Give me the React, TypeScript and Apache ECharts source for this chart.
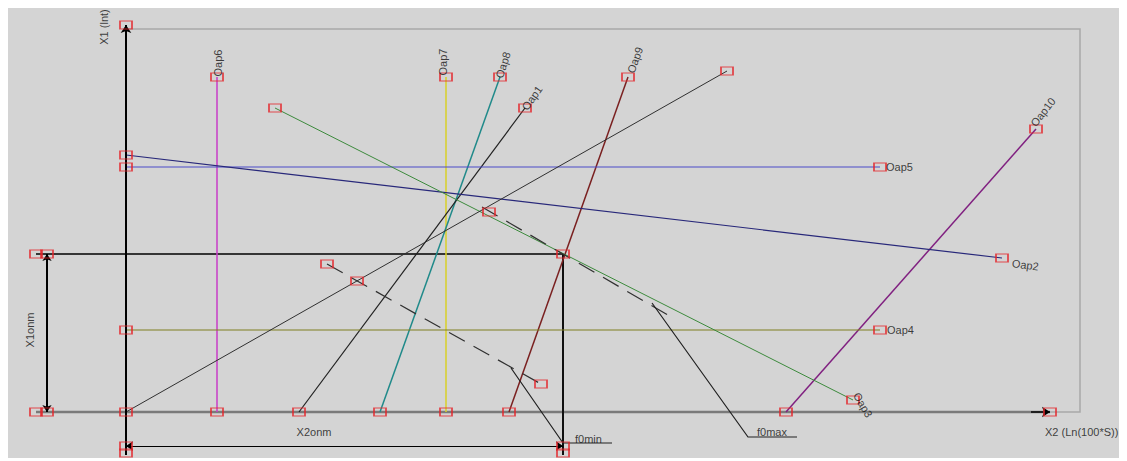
import React, { useEffect, useRef } from "react";
import * as echarts from "echarts";

// Coordinates: X2 (horizontal) and X1 (vertical), origin at axes crossing
const segNames = ["Oap6", "Oap7", "Oap8", "Oap1", "Oap9", "Oap10", "Oap5", "Oap2", "Oap4", "Oap3", "ray"];
const segStart = [[91, 335], [320, 335], [374, 335], [399, 304], [502, 335], [910, 283], [0, 245], [0, 257], [0, 82], [149, 304], [0, 0]];
const segEnd = [[91, 0], [320, 0], [254, 0], [173, 0], [383, 0], [660, 0], [754, 245], [876, 154], [754, 82], [727, 12], [601, 341]];
const segColors = ["#c83cc8", "#d8d028", "#208a8a", "#202020", "#7a2020", "#802080", "#4a4ac8", "#28287a", "#7e7e20", "#3c8a3c", "#303030"];
const segWidths = [1.5, 1.5, 1.5, 1.2, 1.5, 1.5, 1, 1.2, 1, 1, 1];

const dashed1 = [[201, 148], [415, 28]];
const dashed2 = [[356, 205], [547, 94]];
const f0minPath = [[385, 44], [437, -31], [486, -31]];
const f0maxPath = [[526, 109], [622, -25], [671, -25]];

const axisX1 = [[0, -43], [0, 387]];
const axisX2 = [[-90, 0], [924, 0]];
const frame = [[0, 383], [954, 383], [954, 0], [924, 0]];
const x1onmArrow = [[-79, 158], [-79, 0]];
const x2onmArrow = [[0, -34], [437, -34]];
const levelLine = [[-90, 158], [437, 158]];
const dropLine = [[437, 158], [437, -43]];

const markers = [
  [0, 387], [91, 335], [91, 0], [320, 335], [320, 0], [374, 335], [254, 0],
  [399, 304], [173, 0], [502, 335], [383, 0], [601, 341], [0, 0], [910, 283], [660, 0],
  [0, 257], [876, 154], [0, 245], [754, 245], [0, 82], [754, 82], [149, 304], [727, 12],
  [363, 200], [437, 158], [201, 148], [231, 131], [415, 28],
  [-90, 158], [-79, 158], [-90, 0], [-79, 0], [0, -34], [0, -41], [437, -34], [437, -41], [924, 0],
];

const labelTexts = ["X1 (lnt)", "Oap6", "Oap7", "Oap8", "Oap1", "Oap9", "Oap10", "Oap5", "Oap2", "Oap4", "Oap3", "X2onm", "f0min", "f0max", "X2 (Ln(100*S))", "X1onm"];
const labelPos = [[-22, 385], [92, 349], [317, 350], [377, 347], [406, 314], [509, 352], [917, 300], [760, 245], [886, 149], [761, 82], [737, 7], [188, -20], [449, -27], [631, -20], [919, -20], [-96, 82]];
const labelRotate = [90, 90, 90, 72, 55, 70, 52, 0, -8, 0, -60, 0, 0, 0, 0, 90];
const labelAlign = ["center", "center", "center", "center", "center", "center", "center", "left", "left", "left", "center", "center", "left", "left", "left", "center"];

export default function App() {
  const ref = useRef<HTMLDivElement>(null);
  useEffect(() => {
    if (!ref.current) return;
    const chart = echarts.init(ref.current, undefined, { renderer: "svg" });
    const font = "Liberation Sans";
    const seg = (coords: number[][], color: string, width: number, type: any = "solid") => ({
      coords,
      lineStyle: { color, width, type, opacity: 1, curveness: 0 },
    });
    chart.setOption({
      animation: false,
      backgroundColor: "#d4d4d4",
      grid: { left: 0, right: 0, top: 0, bottom: 0, containLabel: false },
      xAxis: { type: "value", min: -118, max: 996, show: false },
      yAxis: { type: "value", min: -46, max: 404, show: false },
      series: [
        {
          type: "lines",
          coordinateSystem: "cartesian2d",
          polyline: true,
          symbol: "none",
          silent: true,
          data: [
            seg(frame, "#a8a8a8", 1.5),
            seg(axisX2, "#7a7a7a", 2.5),
            seg(levelLine, "#000000", 1.5),
            seg(dropLine, "#101010", 2),
            ...segNames.map((_, i) => seg([segStart[i], segEnd[i]], segColors[i], segWidths[i])),
            seg(dashed1, "#303030", 1.2, [18, 10]),
            seg(dashed2, "#303030", 1.2, [18, 10]),
            seg(f0minPath, "#202020", 1.2),
            seg(f0maxPath, "#202020", 1.2),
          ],
        },
        {
          type: "lines",
          coordinateSystem: "cartesian2d",
          symbol: ["none", "arrow"],
          symbolSize: 8,
          silent: true,
          data: [seg(axisX1, "#000000", 2), seg([[905, 0], [924, 0]], "#000000", 1.5)],
        },
        {
          type: "lines",
          coordinateSystem: "cartesian2d",
          symbol: ["arrow", "arrow"],
          symbolSize: 7,
          silent: true,
          data: [seg(x1onmArrow, "#000000", 2), seg(x2onmArrow, "#000000", 1.2)],
        },
        {
          type: "scatter",
          symbol: "rect",
          symbolSize: [12, 8],
          silent: true,
          itemStyle: { color: "rgba(0,0,0,0)", borderColor: "#e4262a", borderWidth: 1.5 },
          data: markers,
          z: 5,
        },
        {
          type: "scatter",
          symbolSize: 0,
          silent: true,
          z: 6,
          data: labelTexts.map((t, i) => ({
            name: t,
            value: labelPos[i],
            label: {
              show: true,
              position: "inside",
              formatter: t,
              rotate: labelRotate[i],
              align: labelAlign[i],
              verticalAlign: "middle",
              color: "#111",
              fontFamily: font,
              fontSize: 11,
            },
          })),
        },
      ],
    });
    return () => chart.dispose();
  }, []);
  return <div ref={ref} style={{ width: 1114, height: 450 }} />;
}
